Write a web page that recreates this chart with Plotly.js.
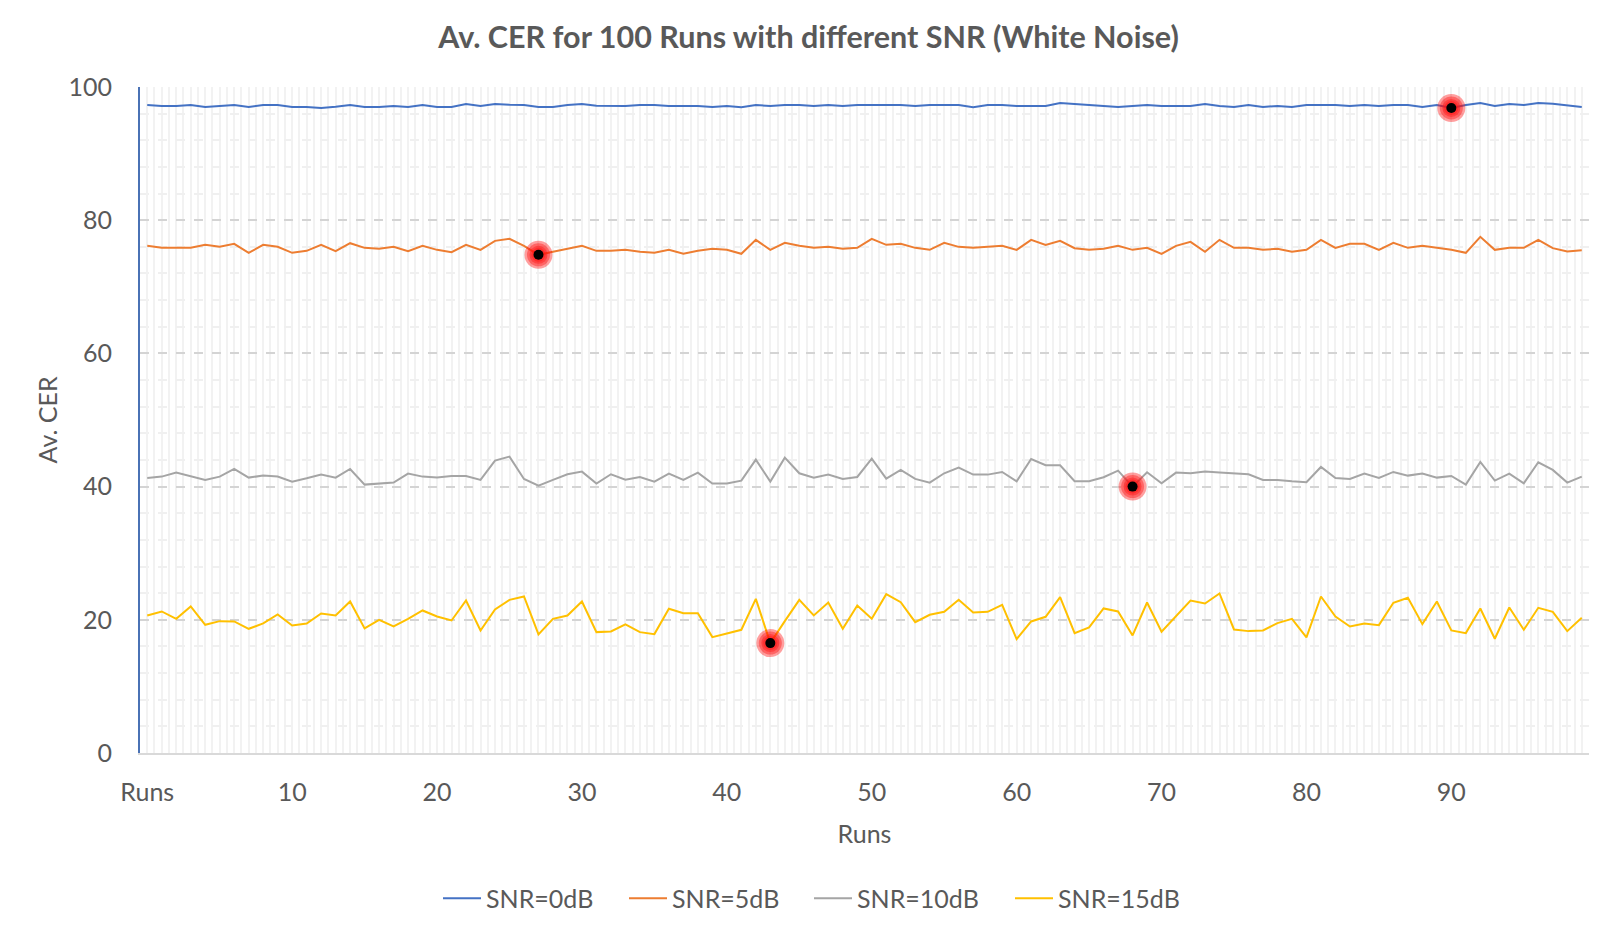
<!DOCTYPE html>
<html>
<head>
<meta charset="utf-8">
<script src="https://cdn.plot.ly/plotly-3.0.1.min.js"></script>
<style>
  html, body { margin: 0; padding: 0; background: #ffffff; }
  #chart { width: 1617px; height: 936px; }
</style>
</head>
<body>
<div id="chart"></div>
<script>
// ---------------- data ----------------
const runs = Array.from({length: 100}, (_, i) => i);   // run index 0..99
const tickVals = [0, 10, 20, 30, 40, 50, 60, 70, 80, 90];
const tickLabels = ["Runs", "10", "20", "30", "40", "50", "60", "70", "80", "90"];
const seriesNames = ["SNR=0dB", "SNR=5dB", "SNR=10dB", "SNR=15dB"];

const snr0 = [
  97.3, 97.15, 97.15, 97.3, 97.0, 97.15, 97.3, 97.0, 97.3, 97.3,
  97.0, 97.0, 96.85, 97.05, 97.3, 97.0, 97.0, 97.15, 97.0, 97.3,
  97.0, 97.0, 97.45, 97.15, 97.45, 97.35, 97.3, 97.0, 97.0, 97.3,
  97.45, 97.2, 97.2, 97.15, 97.3, 97.3, 97.15, 97.15, 97.15, 97.0,
  97.15, 96.95, 97.3, 97.15, 97.3, 97.3, 97.15, 97.3, 97.15, 97.3,
  97.3, 97.3, 97.3, 97.15, 97.3, 97.3, 97.3, 96.95, 97.3, 97.3,
  97.15, 97.15, 97.15, 97.6, 97.4, 97.3, 97.15, 97.0, 97.15, 97.3,
  97.15, 97.15, 97.15, 97.45, 97.15, 97.0, 97.3, 97.0, 97.15, 97.0,
  97.3, 97.3, 97.3, 97.15, 97.3, 97.15, 97.3, 97.3, 97.0, 97.3,
  96.85, 97.3, 97.6, 97.15, 97.45, 97.3, 97.6, 97.5, 97.2, 97.0
];
const snr5 = [
  76.15, 75.85, 75.85, 75.85, 76.3, 76.0, 76.45, 75.1, 76.3, 76.0,
  75.1, 75.4, 76.3, 75.35, 76.55, 75.85, 75.7, 76.0, 75.35, 76.15,
  75.55, 75.2, 76.3, 75.55, 76.9, 77.2, 76.15, 74.8, 75.25, 75.75,
  76.15, 75.4, 75.4, 75.55, 75.25, 75.1, 75.55, 74.95, 75.4, 75.7,
  75.55, 74.95, 77.05, 75.55, 76.6, 76.15, 75.85, 76.0, 75.7, 75.85,
  77.2, 76.3, 76.45, 75.85, 75.55, 76.6, 76.0, 75.85, 76.0, 76.15,
  75.55, 77.05, 76.3, 76.9, 75.8, 75.55, 75.7, 76.15, 75.55, 75.85,
  74.95, 76.15, 76.75, 75.25, 77.05, 75.85, 75.85, 75.55, 75.7, 75.25,
  75.55, 77.05, 75.85, 76.45, 76.45, 75.55, 76.6, 75.85, 76.15, 75.85,
  75.55, 75.1, 77.5, 75.55, 75.85, 75.85, 77.05, 75.8, 75.3, 75.5
];
const snr10 = [
  41.3, 41.5, 42.1, 41.5, 41.0, 41.5, 42.65, 41.35, 41.65, 41.5,
  40.75, 41.25, 41.8, 41.35, 42.65, 40.3, 40.45, 40.6, 41.95, 41.5,
  41.35, 41.6, 41.6, 41.0, 43.9, 44.5, 41.15, 40.15, 41.0, 41.85,
  42.25, 40.45, 41.85, 41.05, 41.45, 40.75, 41.95, 41.0, 42.1, 40.45,
  40.45, 40.9, 44.05, 40.75, 44.35, 42.0, 41.35, 41.8, 41.15, 41.45,
  44.2, 41.2, 42.5, 41.15, 40.6, 42.0, 42.85, 41.8, 41.8, 42.2,
  40.8, 44.15, 43.2, 43.2, 40.8, 40.8, 41.4, 42.4, 40.0, 42.15,
  40.5, 42.1, 42.0, 42.25, 42.1, 42.0, 41.85, 41.0, 41.0, 40.8,
  40.65, 42.95, 41.3, 41.15, 41.95, 41.3, 42.2, 41.65, 41.95, 41.35,
  41.6, 40.3, 43.7, 40.9, 41.95, 40.5, 43.65, 42.5, 40.6, 41.5
];
const snr15 = [
  20.65, 21.25, 20.15, 22.0, 19.25, 19.8, 19.75, 18.65, 19.45, 20.8,
  19.15, 19.45, 20.95, 20.65, 22.75, 18.7, 20.0, 19.0, 20.15, 21.4,
  20.5, 19.9, 22.9, 18.4, 21.55, 23.0, 23.5, 17.8, 20.15, 20.65,
  22.75, 18.15, 18.25, 19.3, 18.15, 17.85, 21.65, 21.0, 21.0, 17.4,
  17.95, 18.5, 23.15, 16.5, 19.8, 23.0, 20.65, 22.6, 18.65, 22.15,
  20.15, 23.85, 22.65, 19.65, 20.75, 21.2, 23.0, 21.1, 21.2, 22.25,
  17.1, 19.75, 20.45, 23.4, 18.0, 18.85, 21.7, 21.25, 17.65, 22.6,
  18.2, 20.6, 22.9, 22.45, 23.95, 18.55, 18.3, 18.4, 19.5, 20.15,
  17.35, 23.5, 20.5, 19.0, 19.45, 19.2, 22.55, 23.3, 19.35, 22.75,
  18.4, 18.0, 21.7, 17.15, 21.85, 18.5, 21.8, 21.2, 18.3, 20.3
];
// highlighted run (index) per series
const highlightIdx = [90, 27, 68, 43];

// ---------------- styling ----------------
const FONT = "Lato, 'Open Sans', 'DejaVu Sans', sans-serif";
const TXT = "#595959";
const colors = ["#4472C4", "#ED7D31", "#A5A5A5", "#FFC000"];
const allSeries = [snr0, snr5, snr10, snr15];
const legendIds = ["legend", "legend2", "legend3", "legend4"];
const legendX = [438, 624, 809, 1010];   // left edge (px) of each legend entry

const traces = allSeries.map((s, k) => ({
  type: "scatter",
  mode: "lines",
  x: runs,
  y: s,
  name: seriesNames[k],
  legend: legendIds[k],
  line: {color: colors[k], width: 2},
  hoverinfo: "x+y+name"
}));

// highlight glow (stacked translucent discs) + black dot
const glowSizes = [28, 23, 18, 14];
allSeries.forEach((s, k) => {
  const i = highlightIdx[k];
  glowSizes.forEach(sz => {
    traces.push({
      type: "scatter", mode: "markers", x: [runs[i]], y: [s[i]],
      showlegend: false, hoverinfo: "skip",
      marker: {size: sz, color: "rgba(255,15,15,0.4)", line: {width: 0}}
    });
  });
  traces.push({
    type: "scatter", mode: "markers", x: [runs[i]], y: [s[i]],
    showlegend: false, hoverinfo: "skip",
    marker: {size: 10, color: "#000000", line: {width: 0}}
  });
});

const legendBase = {
  orientation: "h",
  xref: "container", xanchor: "left",
  y: 0.04, yref: "container", yanchor: "middle",
  font: {family: FONT, size: 25, color: TXT},
  bgcolor: "rgba(0,0,0,0)",
  itemwidth: 38
};

const layout = {
  width: 1617,
  height: 936,
  paper_bgcolor: "#ffffff",
  plot_bgcolor: "#ffffff",
  font: {family: FONT, color: TXT, size: 25},
  margin: {l: 140, r: 28, t: 87, b: 183, pad: 0},
  title: {
    text: "Av. CER for 100 Runs with different SNR (White Noise)",
    font: {family: FONT, size: 30.5, color: TXT, weight: "bold"},
    x: 0.5, xref: "container", xanchor: "center",
    y: 0.96, yref: "container", yanchor: "middle"
  },
  xaxis: {
    type: "linear",
    range: [-0.5, 99.5],
    tickmode: "array",
    tickvals: tickVals,
    ticktext: tickLabels,
    ticks: "",
    ticklabelstandoff: 16,
    tickfont: {family: FONT, size: 25, color: TXT},
    showgrid: true,
    gridcolor: "#f2f2f2",
    gridwidth: 2,
    minor: {dtick: 0.5, tick0: 0, showgrid: true, gridcolor: "#f2f2f2", gridwidth: 2, ticks: ""},
    zeroline: false,
    showline: true,
    linecolor: "#d9d9d9",
    linewidth: 2,
    title: {text: "Runs", font: {family: FONT, size: 25, color: TXT}, standoff: 20},
    automargin: false
  },
  yaxis: {
    range: [0, 100],
    dtick: 20,
    tick0: 0,
    ticks: "",
    ticklabelstandoff: 21,
    tickfont: {family: FONT, size: 25, color: TXT},
    showgrid: true,
    gridcolor: "#d4d4d4",
    gridwidth: 2,
    griddash: "dash",
    minor: {dtick: 4, tick0: 0, showgrid: true, gridcolor: "#f0f0f0", gridwidth: 2, ticks: ""},
    zeroline: false,
    showline: true,
    linecolor: "#4a72b5",
    linewidth: 2,
    title: {text: "Av. CER", font: {family: FONT, size: 25, color: TXT}, standoff: 4},
    automargin: false
  },
  legend:  Object.assign({}, legendBase, {x: legendX[0] / 1617}),
  legend2: Object.assign({}, legendBase, {x: legendX[1] / 1617}),
  legend3: Object.assign({}, legendBase, {x: legendX[2] / 1617}),
  legend4: Object.assign({}, legendBase, {x: legendX[3] / 1617})
};

Plotly.newPlot("chart", traces, layout, {displayModeBar: false, staticPlot: true});
</script>
</body>
</html>
